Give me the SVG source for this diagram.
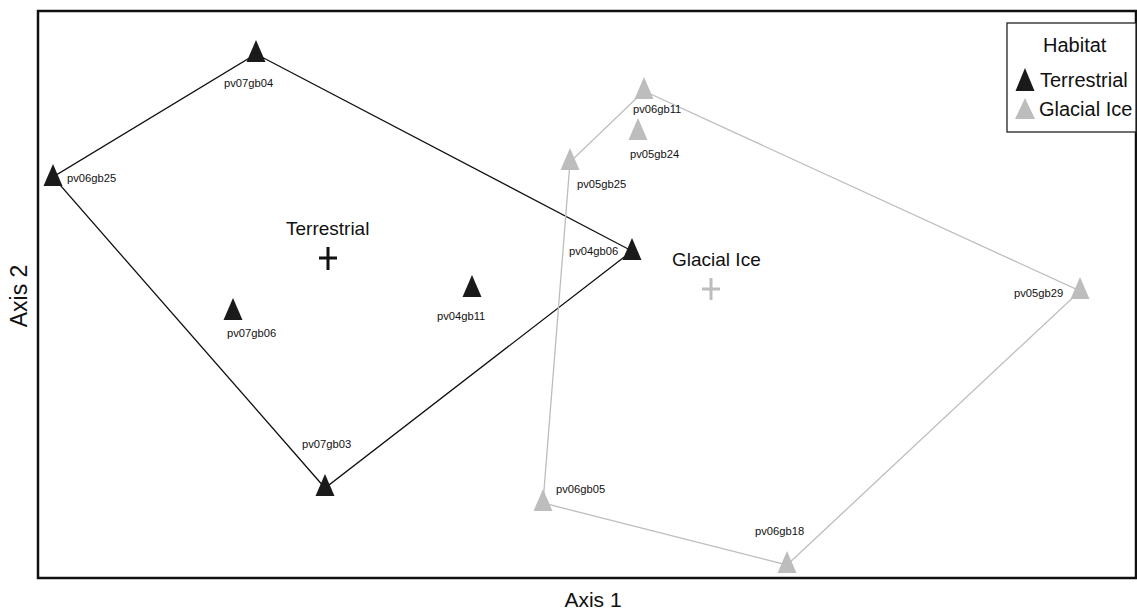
<svg xmlns="http://www.w3.org/2000/svg" width="1137" height="613" viewBox="0 0 1137 613">
<style>
text{font-family:"Liberation Sans",Arial,sans-serif;fill:#111}
.lbl{font-size:11.2px}
.big{font-size:19px}
.leg{font-size:20px}
.ax{font-size:21px}
.t{fill:#1a1a1a}
.g{fill:#bdbdbd}
.hullT{fill:none;stroke:#111;stroke-width:1.3}
.hullG{fill:none;stroke:#bdbdbd;stroke-width:1.3}
</style>
<defs>
<path id="tri" d="M0,-14 L9.5,8 L-9.5,8 Z"/>
</defs>
<rect x="0" y="0" width="1137" height="613" fill="#fff"/>
<rect id="frame" x="38" y="11" width="1098" height="567" fill="none" stroke="#111" stroke-width="2.5"/>
<g id="connectors">
<polygon class="hullT" points="256,54 632,251 325,488 53,177"/>
<polygon class="hullG" points="644,91 1080,291 787,565 543,503 570,162"/>
</g>
<g id="pv07gb04"><use href="#tri" class="t" x="256" y="54"/><text class="lbl" x="224" y="87">pv07gb04</text></g>
<g id="pv06gb25"><use href="#tri" class="t" x="53" y="178"/><text class="lbl" x="67" y="182">pv06gb25</text></g>
<g id="pv04gb06"><use href="#tri" class="t" x="632" y="252"/><text class="lbl" x="569" y="255">pv04gb06</text></g>
<g id="pv04gb11"><use href="#tri" class="t" x="472" y="289"/><text class="lbl" x="437" y="320">pv04gb11</text></g>
<g id="pv07gb06"><use href="#tri" class="t" x="233" y="312"/><text class="lbl" x="227" y="337">pv07gb06</text></g>
<g id="pv07gb03"><use href="#tri" class="t" x="325" y="488"/><text class="lbl" x="302" y="448">pv07gb03</text></g>
<g id="pv06gb11"><use href="#tri" class="g" x="644" y="91"/><text class="lbl" x="633" y="113">pv06gb11</text></g>
<g id="pv05gb24"><use href="#tri" class="g" x="638" y="132"/><text class="lbl" x="630" y="158">pv05gb24</text></g>
<g id="pv05gb25"><use href="#tri" class="g" x="570" y="162"/><text class="lbl" x="577" y="188">pv05gb25</text></g>
<g id="pv05gb29"><use href="#tri" class="g" x="1080" y="291"/><text class="lbl" x="1014" y="297">pv05gb29</text></g>
<g id="pv06gb05"><use href="#tri" class="g" x="543" y="503"/><text class="lbl" x="556" y="493">pv06gb05</text></g>
<g id="pv06gb18"><use href="#tri" class="g" x="787" y="565"/><text class="lbl" x="755" y="535">pv06gb18</text></g>
<g id="centroid-terrestrial">
<path d="M319,258 H337 M328,247 V270" stroke="#111" stroke-width="3"/>
<text class="big" x="286" y="235">Terrestrial</text>
</g>
<g id="centroid-glacial">
<path d="M702,289 H720 M711,278 V300" stroke="#bdbdbd" stroke-width="3"/>
<text class="big" x="672" y="266">Glacial Ice</text>
</g>
<g id="legend">
<rect x="1007" y="23" width="129" height="109" fill="#fff" stroke="#222" stroke-width="1.3"/>
<text class="leg" x="1043" y="52">Habitat</text>
<path d="M1025,68 L1034.5,91 L1015.5,91 Z" class="t"/>
<text class="leg" x="1040" y="87">Terrestrial</text>
<path d="M1025,98 L1035,119 L1015,119 Z" class="g"/>
<text class="leg" x="1039" y="116">Glacial Ice</text>
</g>
<text class="ax" x="593" y="607" text-anchor="middle">Axis 1</text>
<text class="ax" transform="translate(27,296) rotate(-90)" text-anchor="middle" style="font-size:23px">Axis 2</text>
</svg>
